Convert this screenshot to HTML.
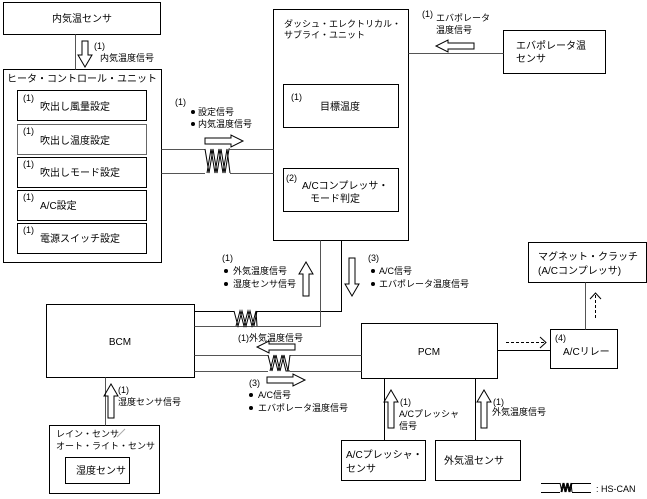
<!DOCTYPE html>
<html><head><meta charset="utf-8"><style>
html,body{margin:0;padding:0;background:#fff;}
svg{display:block;}
text{font-family:"Liberation Sans","Noto Sans CJK JP",sans-serif;fill:#000;}
.t{font-size:10px;}
.s{font-size:9px;}
</style></head><body>
<svg width="647" height="499" viewBox="0 0 647 499" xmlns="http://www.w3.org/2000/svg">
<g fill="none" stroke="#000" stroke-width="1">
<rect x="3.5" y="2.5" width="157" height="32"/>
<rect x="3.5" y="69.5" width="158" height="193"/>
<rect x="17.5" y="90.5" width="129" height="30"/>
<rect x="17.5" y="124.5" width="129" height="30" stroke="#666"/>
<rect x="17.5" y="157.5" width="129" height="30"/>
<rect x="17.5" y="190.5" width="129" height="30"/>
<rect x="17.5" y="223.5" width="129" height="30"/>
<rect x="273.5" y="9.5" width="135" height="231"/>
<rect x="283.5" y="84.5" width="115" height="43"/>
<rect x="283.5" y="168.5" width="115" height="43"/>
<rect x="503.5" y="30.5" width="102" height="43"/>
<rect x="46.5" y="304.5" width="148" height="73"/>
<rect x="49.5" y="425.5" width="110" height="68"/>
<rect x="65.5" y="457.5" width="64" height="26"/>
<rect x="361.5" y="323.5" width="136" height="55"/>
<rect x="550.5" y="329.5" width="67" height="39"/>
<rect x="528.5" y="242.5" width="118" height="40"/>
<rect x="341.5" y="440.5" width="84" height="40"/>
<rect x="435.5" y="440.5" width="85" height="40"/>
<path d="M75.5 34.5V69.5" stroke="#555"/>
<path d="M408.5 53.5H503.5" stroke="#555"/>
<path d="M161.5 149.5H205M230 149.5H273.5M161.5 173.5H205M230 173.5H273.5" stroke="#555"/>
<path d="M341.5 240.5V311.5H257M234 311.5H194.5" />
<path d="M320.5 240.5V326.5H194.5" stroke="#555"/>
<path d="M194.5 355.5H268M290 355.5H361.5M194.5 371.5H268M290 371.5H361.5" stroke="#555"/>
<path d="M105.5 377.5V425.5" stroke="#555"/>
<path d="M497.5 350.5H550.5"/>
<path d="M585.5 282.5V329.5" stroke="#555"/>
<path d="M384.5 378.5V440.5M475.5 378.5V440.5"/>
<path d="M541 483.5H560M572 483.5H591M541 492.5H560M572 492.5H591"/>
<polyline points="205,149 209,173 213,149 217,173 221,149 225,173 229,149 230,149"/>
<polyline points="207,173 211,149 215,173 219,149 223,173 227,149 230,173"/>
<polyline points="234,311 238,326 242,311 246,326 250,311 254,326 257,311"/>
<polyline points="236,326 240,311 244,326 248,311 252,326 256,311 257,326"/>
<polyline points="268,355 272,371 276,355 280,371 284,355 288,371 290,355"/>
<polyline points="270,371 274,355 278,371 282,355 286,371 290,371"/>
<polyline points="560,483 562,492 564,483 566,492 568,483 570,492 572,483"/>
<polyline points="561,492 563,483 565,492 567,483 569,492 571,483 572,492"/>
<polygon points="82,41 88,41 88,55 92,55 85,67 78,55 82,55"/>
<polygon points="205,138 231,138 231,135 243,141 231,147 231,144 205,144"/>
<polygon points="474,43 448,43 448,40 436,46 448,52 448,49 474,49"/>
<polygon points="303,296 309,296 309,274 313,274 306,262 299,274 303,274"/>
<polygon points="349,258 355,258 355,284 359,284 352,296 345,284 349,284"/>
<polygon points="295,344 269,344 269,341 257,347 269,353 269,350 295,350"/>
<polygon points="267,377 293,377 293,374 305,380 293,386 293,383 267,383"/>
<polygon points="108,418 114,418 114,396 118,396 111,384 104,396 108,396"/>
<polygon points="388,428 394,428 394,402 398,402 391,390 384,402 388,402"/>
<polygon points="481,428 487,428 487,402 491,402 484,390 477,402 481,402"/>
<path d="M506 342.5H546" stroke-dasharray="3,2"/>
<polyline points="540,337 546,342.5 540,348"/>
<path d="M595.5 318V293" stroke-dasharray="3,2"/>
<polyline points="590,299 595.5,293 601,299"/>
<path d="M117 437L125 429" stroke="#aaa"/>
</g>
<g fill="#000">
<circle cx="193" cy="112" r="2"/><circle cx="193" cy="124" r="2"/>
<circle cx="226" cy="271" r="2"/><circle cx="226" cy="284" r="2"/>
<circle cx="373" cy="271" r="2"/><circle cx="373" cy="284" r="2"/>
<circle cx="251" cy="395" r="2"/><circle cx="251" cy="408" r="2"/>
</g>
<text class="t" x="82" y="22" text-anchor="middle">内気温センサ</text>
<text class="s" x="94" y="49">(1)</text>
<text class="s" x="100" y="61">内気温度信号</text>
<text class="t" x="7" y="82">ヒータ・コントロール・ユニット</text>
<text class="s" x="23" y="101">(1)</text><text class="t" x="40" y="110">吹出し風量設定</text>
<text class="s" x="23" y="134">(1)</text><text class="t" x="40" y="144">吹出し温度設定</text>
<text class="s" x="23" y="167">(1)</text><text class="t" x="40" y="176">吹出しモード設定</text>
<text class="s" x="23" y="200">(1)</text><text class="t" x="40" y="209">A/C設定</text>
<text class="s" x="23" y="233">(1)</text><text class="t" x="40" y="242">電源スイッチ設定</text>
<text class="s" x="175" y="105">(1)</text>
<text class="s" x="198" y="115">設定信号</text>
<text class="s" x="198" y="127">内気温度信号</text>
<text class="s" x="284" y="27">ダッシュ・エレクトリカル・</text>
<text class="s" x="284" y="38">サブライ・ユニット</text>
<text class="s" x="291" y="100">(1)</text>
<text class="t" x="320" y="110">目標温度</text>
<text class="s" x="286" y="181">(2)</text>
<text class="t" x="302" y="189">A/Cコンプレッサ・</text>
<text class="t" x="310" y="202">モード判定</text>
<text class="s" x="422" y="17">(1)</text>
<text class="s" x="436" y="21">エバポレータ</text>
<text class="s" x="436" y="33">温度信号</text>
<text class="t" x="516" y="49">エバポレータ温</text>
<text class="t" x="516" y="62">センサ</text>
<text class="s" x="222" y="261">(1)</text>
<text class="s" x="233" y="274">外気温度信号</text>
<text class="s" x="233" y="287">湿度センサ信号</text>
<text class="s" x="368" y="261">(3)</text>
<text class="s" x="379" y="274">A/C信号</text>
<text class="s" x="379" y="287">エバポレータ温度信号</text>
<text class="t" x="120" y="345" text-anchor="middle">BCM</text>
<text class="s" x="238" y="341">(1)外気温度信号</text>
<text class="s" x="249" y="386">(3)</text>
<text class="s" x="258" y="398">A/C信号</text>
<text class="s" x="258" y="411">エバポレータ温度信号</text>
<text class="s" x="118" y="393">(1)</text>
<text class="s" x="118" y="405">湿度センサ信号</text>
<text class="s" x="56" y="437">レイン・センサ</text>
<text class="s" x="56" y="449">オート・ライト・センサ</text>
<text class="t" x="76" y="474">湿度センサ</text>
<text class="t" x="429" y="355" text-anchor="middle">PCM</text>
<text class="s" x="555" y="341">(4)</text>
<text class="t" x="563" y="355">A/Cリレー</text>
<text class="t" x="538" y="260">マグネット・クラッチ</text>
<text class="t" x="538" y="274">(A/Cコンプレッサ)</text>
<text class="s" x="400" y="405">(1)</text>
<text class="s" x="399" y="417">A/Cプレッシャ</text>
<text class="s" x="399" y="429">信号</text>
<text class="s" x="493" y="405">(1)</text>
<text class="s" x="492" y="415">外気温度信号</text>
<text class="t" x="346" y="458">A/Cプレッシャ・</text>
<text class="t" x="346" y="472">センサ</text>
<text class="t" x="444" y="464">外気温センサ</text>
<text class="s" x="596" y="492">: HS-CAN</text>
</svg>
</body></html>
